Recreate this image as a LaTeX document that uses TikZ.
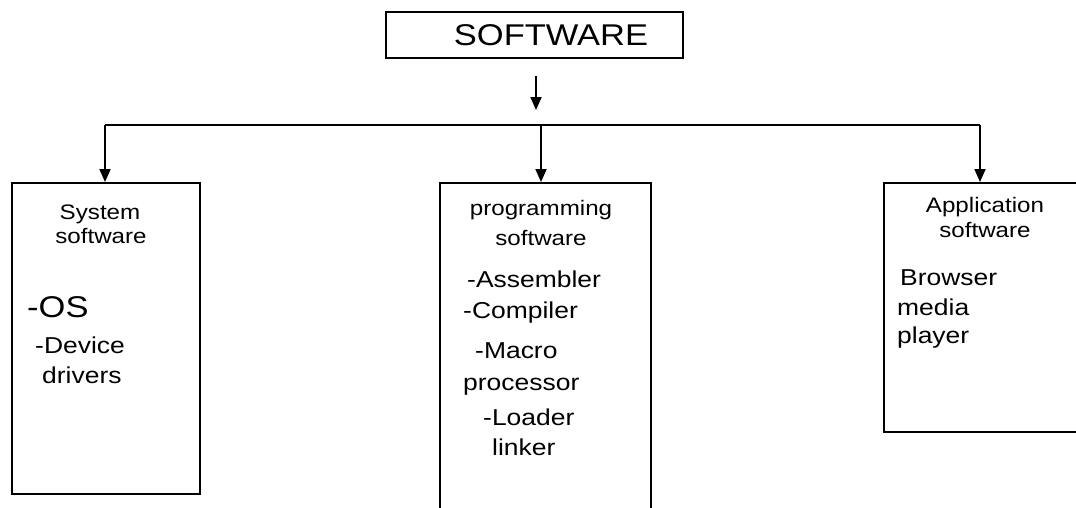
\documentclass[tikz,border=0pt]{standalone}
\usepackage{fontspec}
\setmainfont{Liberation Sans}[FakeStretch=1.15]
\usetikzlibrary{arrows.meta}
\tikzset{
	box/.style={draw, line width=2pt, inner sep=0pt},
	arr/.style={line width=1.8pt, -{Triangle[width=11pt,length=13pt]}},
	head/.style={anchor=base, inner sep=0pt, font=\fontsize{21}{25}\selectfont},
	item/.style={anchor=base west, inner sep=0pt, font=\fontsize{23}{27}\selectfont}
}
\begin{document}
\begin{tikzpicture}[x=1pt, y=-1pt]
	\useasboundingbox (0,0) rectangle (1076,507);
	% top box
	\node[box, minimum width=297pt, minimum height=46pt, font=\fontsize{30}{36}\selectfont] (software) at (534.5,35) {\hspace*{33pt}SOFTWARE};
	% the three kinds
	\node[box, minimum width=188pt, minimum height=311pt] (sys) at (106,338.5) {};
	\node[box, minimum width=211pt, minimum height=332pt] (prog) at (545.5,349) {};
	\node[box, minimum width=196pt, minimum height=249pt] (app) at (982,307.5) {};
	% connectors
	\coordinate (fork) at (536,110);
	\coordinate (busL) at (105,125);
	\coordinate (busM) at (541,125);
	\coordinate (busR) at (980,125);
	\draw[arr, shorten <=17pt] (software.south -| fork) -- (fork);
	\draw[line width=1.8pt] (busL) -- (busR);
	\draw[arr] (busL) -- (busL |- sys.north);
	\draw[arr] (busM) -- (busM |- prog.north);
	\draw[arr] (busR) -- (busR |- app.north);
	% system software
	\node[head] (sysA) at (100,219) {System};
	\node[head] (sysB) at (101,243) {software};
	\node[item, font=\fontsize{30}{36}\selectfont] (os) at (27,317) {-OS};
	\node[item] (dev) at (35,353) {-Device};
	\node[item] (drv) at (42,383) {drivers};
	% programming software
	\node[head] (progA) at (541,215) {programming};
	\node[head] (progB) at (541,245) {software};
	\node[item] (asm) at (467,287) {-Assembler};
	\node[item] (comp) at (463,318) {-Compiler};
	\node[item] (mac) at (475,358) {-Macro};
	\node[item] (proc) at (463,390) {processor};
	\node[item] (load) at (483,425) {-Loader};
	\node[item] (link) at (492,455) {linker};
	% application software
	\node[head] (appA) at (985,212) {Application};
	\node[head] (appB) at (985,237) {software};
	\node[item] (brow) at (900,285) {Browser};
	\node[item] (med) at (897,315) {media};
	\node[item] (play) at (897,343) {player};
\end{tikzpicture}
\end{document}
